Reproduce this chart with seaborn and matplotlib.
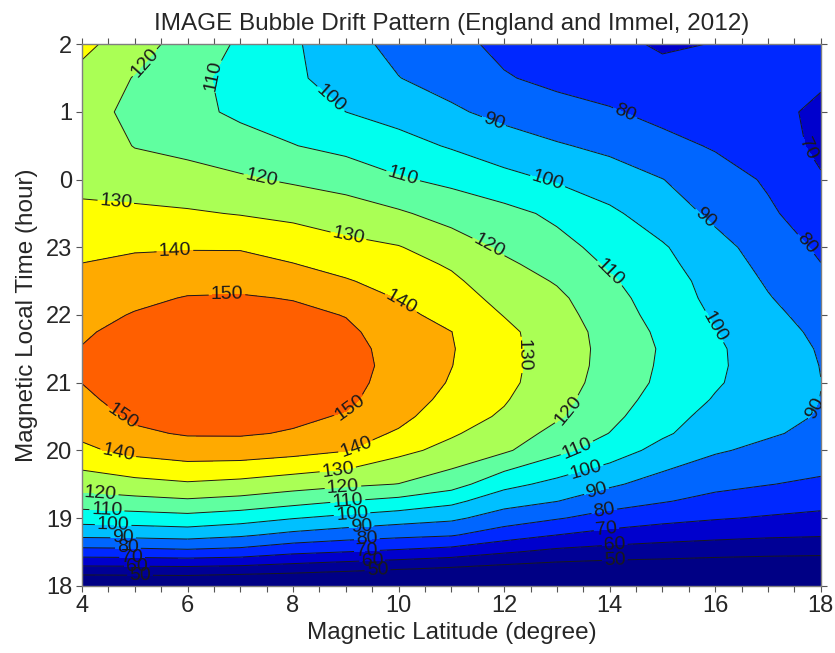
import numpy as np
import matplotlib
matplotlib.use("Agg")
import matplotlib.pyplot as plt
from matplotlib.ticker import MultipleLocator, FixedLocator, FixedFormatter
import seaborn as sns

# Magnetic latitude columns (degree)
latitude = [4, 5, 6, 7, 8, 9, 10, 11, 12, 13, 14, 15, 16, 17, 18]

# Magnetic local time rows; times after midnight continue past 24 h
local_time = [18.0, 18.25, 18.5, 18.75, 19.0, 19.25, 19.5, 20.0, 20.25, 20.5,
              20.75, 21.0, 21.25, 21.5, 21.75, 22.0, 22.25, 22.5, 22.75, 23.0,
              23.5, 24.0, 24.5, 25.0, 25.5, 26.0]

# Bubble drift speed (m/s), one list per local-time row, ordered by latitude
drift_t1800 = [38, 38.5, 38.8, 37.2, 36.5, 35.3, 33.2, 32.5, 31.4, 30, 30.2, 29.7, 30, 29.8, 29.8]
drift_t1815 = [56.9, 57.1, 57.3, 56.4, 54.7, 52.7, 50.7, 48.6, 46.4, 45, 44, 43.4, 42.5, 41.8, 41.5]
drift_t1830 = [76, 76.4, 77.5, 76.2, 72.1, 70, 68, 65.6, 61.1, 57.5, 55.8, 54.8, 53.7, 52.9, 52.4]
drift_t1845 = [92.5, 93, 94, 91.5, 87.4, 84.5, 82.5, 80.9, 74.7, 70, 66.5, 64.2, 62.7, 61.5, 60.8]
drift_t1900 = [104.5, 105.5, 106.8, 104.4, 100.5, 97.4, 94.5, 92, 85.4, 80.8, 76.3, 73.1, 70.8, 69.1, 67.6]
drift_t1915 = [115.2, 117, 118.6, 116.8, 113.5, 110, 107.2, 102.5, 94, 90.2, 84.3, 80.7, 77.2, 74.9, 73.2]
drift_t1930 = [124.3, 126.9, 128.8, 127.2, 124.4, 121.9, 119.8, 114.2, 103, 97.2, 91.5, 86.1, 82.5, 80.3, 78.2]
drift_t2000 = [138, 142.9, 145.5, 145.5, 143.5, 140.5, 132.5, 127.1, 121.5, 112.5, 105.1, 96.7, 91, 87.8, 86]
drift_t2015 = [142, 148.5, 150.8, 150.9, 149.3, 144.5, 138.8, 131.1, 125.2, 117.2, 109.8, 101.5, 94.5, 91, 87.8]
drift_t2030 = [145.5, 151.5, 153.6, 153.4, 151.7, 149.3, 142.8, 134, 128.8, 121.2, 112.6, 103.6, 97, 93, 89.3]
drift_t2045 = [148.3, 153.3, 155.8, 155.6, 153.8, 151.6, 145.4, 137, 130.8, 123, 114.6, 106, 99.3, 94.3, 89.9]
drift_t2100 = [150.1, 154.3, 157.1, 157, 155, 152.8, 146.5, 139.2, 132.4, 124.5, 116, 108, 101, 95.2, 90.1]
drift_t2115 = [150.6, 154.5, 157.5, 157.5, 155.5, 153, 147.5, 140.2, 132.8, 125.1, 116.8, 108.6, 101.5, 95.5, 89.8]
drift_t2130 = [150.3, 154, 157.1, 157.1, 155.2, 152.8, 147, 140.6, 132.7, 125.3, 117, 109, 101.4, 95.2, 89.2]
drift_t2145 = [149, 152.6, 155.8, 155.9, 154, 151.6, 146, 140.1, 132.2, 125, 116.5, 108, 100.3, 94, 88]
drift_t2200 = [147, 150.6, 153.6, 153.8, 152.1, 149.7, 142.7, 136.5, 129.7, 123.3, 115.4, 106, 99, 92.2, 86.5]
drift_t2215 = [144.8, 148, 150.5, 150.8, 149.6, 145.5, 139.5, 134, 127.3, 122, 113.3, 105.2, 97.5, 90.6, 84.3]
drift_t2230 = [142.5, 145, 146.9, 147.3, 144.7, 140.8, 136.3, 131.6, 125, 119.2, 111.2, 104.3, 96.5, 89, 82]
drift_t2245 = [140.2, 142, 143.2, 143.3, 140.3, 136.6, 133.3, 129, 121.7, 116.2, 108.8, 102.6, 94.8, 87.4, 80.2]
drift_t2300 = [137.4, 139, 139.3, 139.2, 136.2, 132.7, 130.5, 125, 118.4, 113.1, 106.8, 101, 93, 86, 78.3]
drift_t2330 = [131.9, 131.9, 131.1, 129.5, 127.6, 124.8, 121.3, 116.3, 113, 108, 101.8, 95, 88, 81.5, 74.7]
drift_t0000 = [127.5, 125.5, 123.5, 121.3, 118.7, 116.1, 111, 107.8, 103.1, 99, 94.7, 90.2, 84.6, 78.8, 71]
drift_t0030 = [126.5, 119.6, 117.5, 114.3, 110.3, 107.2, 103.5, 99.1, 94.3, 90.9, 87.8, 83.2, 79, 76, 67.5]
drift_t0100 = [125.5, 116.5, 113, 108, 105.5, 100, 96.4, 91.4, 87.3, 83.7, 81, 77, 76, 73.5, 67.5]
drift_t0130 = [126.5, 119.5, 113, 106.5, 101.8, 95.5, 90.2, 86.5, 80.8, 77.5, 75, 73, 73.5, 72.5, 71.8]
drift_t0200 = [133, 123.5, 116.5, 108.5, 101.5, 93, 87.5, 83, 77.5, 74, 72.5, 68.8, 70.3, 72.5, 75]

# Contour levels and tick labels
contour_levels = [50, 60, 70, 80, 90, 100, 110, 120, 130, 140, 150]
time_ticks = [18, 19, 20, 21, 22, 23, 24, 25, 26]
time_tick_labels = ["18", "19", "20", "21", "22", "23", "0", "1", "2"]

# Filled band colours from the slowest band to the fastest
band_colors = ["#000085", "#000096", "#0000CD", "#0028FF", "#0066FF", "#00C0FF",
               "#00FFEE", "#60FFA0", "#AAFF55", "#FFFF00", "#FFAA00", "#FF5F00"]

# Where the inline contour labels sit: (latitude, local time, level)
label_spots = [
    (5.29, 25.66, 120), (6.56, 25.5, 110), (8.57, 25.07, 100), (11.79, 24.83, 90),
    (14.29, 24.98, 80), (17.7, 24.43, 70), (7.37, 23.92, 120), (10.08, 24.04, 110),
    (12.81, 23.94, 100), (15.81, 23.44, 90), (17.65, 23.0, 80), (4.63, 23.58, 130),
    (5.76, 22.96, 140), (9.04, 23.13, 130), (11.7, 23.0, 120), (14.05, 22.66, 110),
    (16.03, 21.85, 100), (6.75, 22.26, 150), (10.08, 22.22, 140), (12.49, 21.41, 130),
    (17.86, 20.64, 90), (4.63, 20.34, 150), (9.08, 20.63, 150), (4.66, 19.86, 140),
    (9.17, 20.08, 140), (13.19, 20.6, 120), (13.38, 20.03, 110), (13.59, 19.6, 100),
    (13.78, 19.31, 90), (13.91, 19.04, 80), (13.95, 18.78, 70), (14.1, 18.53, 60),
    (14.1, 18.3, 50),
    (4.34, 19.3, 120), (4.47, 19.08, 110), (4.59, 18.88, 100), (4.78, 18.7, 90),
    (4.87, 18.55, 80), (4.95, 18.41, 70), (5.04, 18.29, 60), (5.1, 18.16, 50),
    (8.85, 19.7, 130), (8.95, 19.41, 120), (9.04, 19.22, 110), (9.12, 19.03, 100),
    (9.3, 18.86, 90), (9.4, 18.66, 80), (9.4, 18.5, 70), (9.5, 18.37, 60),
    (9.6, 18.22, 50),
]

sns.set_theme(style="ticks")
plt.rcParams["font.family"] = ["Liberation Sans", "DejaVu Sans"]

speed = np.array([
    drift_t1800, drift_t1815, drift_t1830, drift_t1845, drift_t1900, drift_t1915,
    drift_t1930, drift_t2000, drift_t2015, drift_t2030, drift_t2045, drift_t2100,
    drift_t2115, drift_t2130, drift_t2145, drift_t2200, drift_t2215, drift_t2230,
    drift_t2245, drift_t2300, drift_t2330, drift_t0000, drift_t0030, drift_t0100,
    drift_t0130, drift_t0200,
], dtype=float)
lat = np.array(latitude, dtype=float)
mlt = np.array(local_time, dtype=float)

fig = plt.figure(figsize=(8.35, 6.53), dpi=100)
ax = fig.add_axes([0.0982, 0.1031, 0.8847, 0.8291])

palette = sns.color_palette(band_colors)
fill_levels = [0] + contour_levels + [200]
ax.contourf(lat, mlt, speed, levels=fill_levels, colors=palette)

ax.set_xlim(4, 18)
ax.set_ylim(18, 26)

for lev in contour_levels:
    cs = ax.contour(lat, mlt, speed, levels=[lev], colors="k", linewidths=0.7)
    spots = [(x, y) for x, y, l in label_spots if l == lev]
    if spots:
        ax.clabel(cs, levels=[lev], manual=spots, inline=True, inline_spacing=2,
                  fontsize=14, fmt="%d", colors="k")

ax.set_title("IMAGE Bubble Drift Pattern (England and Immel, 2012)",
             fontsize=17.5, pad=10)
ax.set_xlabel("Magnetic Latitude (degree)", fontsize=17.5, labelpad=3)
ax.set_ylabel("Magnetic Local Time (hour)", fontsize=17.5, labelpad=6)

ax.xaxis.set_major_locator(MultipleLocator(2))
ax.xaxis.set_minor_locator(MultipleLocator(0.5))
ax.yaxis.set_major_locator(FixedLocator(time_ticks))
ax.yaxis.set_major_formatter(FixedFormatter(time_tick_labels))
ax.tick_params(which="both", direction="out", top=True, right=True,
               labeltop=False, labelright=False, length=4, width=0.8,
               color="#555555", labelsize=17, pad=3)
for side in ax.spines.values():
    side.set_color("#7f7f7f")
    side.set_linewidth(1.0)

fig.savefig("out.png", dpi=100)
